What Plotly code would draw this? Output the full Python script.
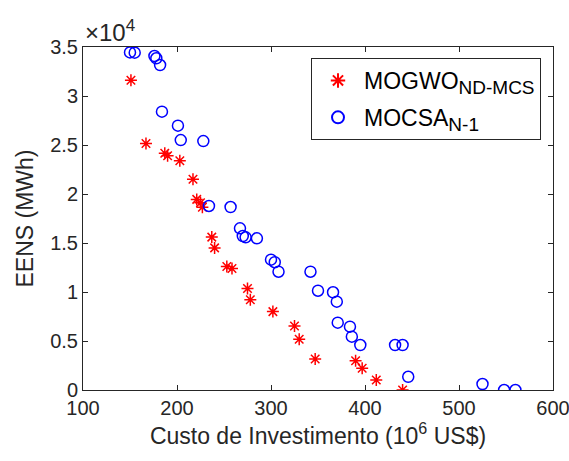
import plotly.graph_objects as go

# MOGWO (ND-MCS) Pareto front: investment cost (10^6 US$) vs EENS (MWh)
mogwo_cost = [151, 167, 187, 190, 203, 217, 221, 225, 227, 237, 240, 253, 258.5,
              275, 278, 302, 325, 330, 347, 390, 397, 412, 440]
mogwo_eens = [31600, 25150, 24150, 23900, 23400, 21500, 19450, 19100, 18650, 15600,
              14500, 12600, 12400, 10350, 9200, 8000, 6530, 5170, 3160, 2990, 2210,
              1020, 0]

# MOCSA (N-1) Pareto front
mocsa_cost = [150, 155, 176, 178, 182, 184, 201, 204, 228, 234, 257, 267, 270, 273,
              285, 300, 304, 308, 342, 350, 366, 370, 371, 384, 386, 395, 432, 440,
              446, 525, 548, 560]
mocsa_eens = [34450, 34420, 34080, 33850, 33160, 28400, 26970, 25500, 25400, 18780,
              18670, 16500, 15710, 15580, 15480, 13300, 13040, 12070, 12070, 10130,
              9970, 9010, 6870, 6460, 5440, 4590, 4590, 4590, 1350, 610, 0, 0]

x_ticks = [100, 200, 300, 400, 500, 600]
y_ticks = [0, 5000, 10000, 15000, 20000, 25000, 30000, 35000]
y_tick_text = ["0", "0.5", "1", "1.5", "2", "2.5", "3", "3.5"]

INK = "#262626"
FONT = "Liberation Sans, Arial, sans-serif"
SUB = "<sub><span style='font-size:19px'>{}</span></sub>"

fig = go.Figure()
fig.add_trace(go.Scatter(
    x=mogwo_cost, y=mogwo_eens, mode="markers",
    name="MOGWO" + SUB.format("ND-MCS"), legendgroup="a",
    marker=dict(symbol="asterisk-open", size=10, color="#ff0000",
                line=dict(color="#ff0000", width=1.5)),
))
fig.add_trace(go.Scatter(
    x=mocsa_cost, y=mocsa_eens, mode="markers",
    name="MOCSA" + SUB.format("N-1"), legendgroup="b",
    marker=dict(symbol="circle-open", size=11, color="#0000ff",
                line=dict(color="#0000ff", width=1.5)),
))

axis_common = dict(
    showgrid=False, zeroline=False, showline=True, linecolor=INK, linewidth=1,
    mirror="ticks", ticks="inside", ticklen=5, tickcolor=INK, tickwidth=1,
    tickfont=dict(family=FONT, size=20, color=INK), ticklabeloverflow="allow",
    automargin=False,
)

fig.update_xaxes(
    range=[100, 600], tickvals=x_ticks, ticktext=[str(v) for v in x_ticks],
    title=dict(text="Custo de Investimento (10<sup>6</sup> US$)",
               font=dict(family=FONT, size=23, color=INK), standoff=8),
    **axis_common,
)
fig.update_yaxes(
    range=[0, 35000], tickvals=y_ticks, ticktext=y_tick_text,
    title=dict(text="EENS (MWh)", font=dict(family=FONT, size=23, color=INK),
               standoff=10),
    **axis_common,
)

# shared exponent for the y axis
fig.add_annotation(
    xref="paper", yref="paper", x=0, y=1, xanchor="left", yanchor="bottom",
    text="<span style='font-size:24px'>×10</span><sup><span style='font-size:17px'>4</span></sup>",
    showarrow=False, xshift=0, yshift=-1,
    font=dict(family=FONT, size=24, color=INK),
)

fig.update_layout(
    width=569, height=461,
    margin=dict(l=83, r=16, t=47, b=71, autoexpand=False),
    plot_bgcolor="white", paper_bgcolor="white",
    showlegend=True,
    legend=dict(
        x=(311 - 83) / 470, y=1 - (58 - 47) / 343, xanchor="left", yanchor="top",
        bgcolor="white", bordercolor=INK, borderwidth=1,
        font=dict(family=FONT, size=23, color="#000000"),
        tracegroupgap=4, itemsizing="constant", itemwidth=42,
    ),
)

fig.write_html("out.html")
